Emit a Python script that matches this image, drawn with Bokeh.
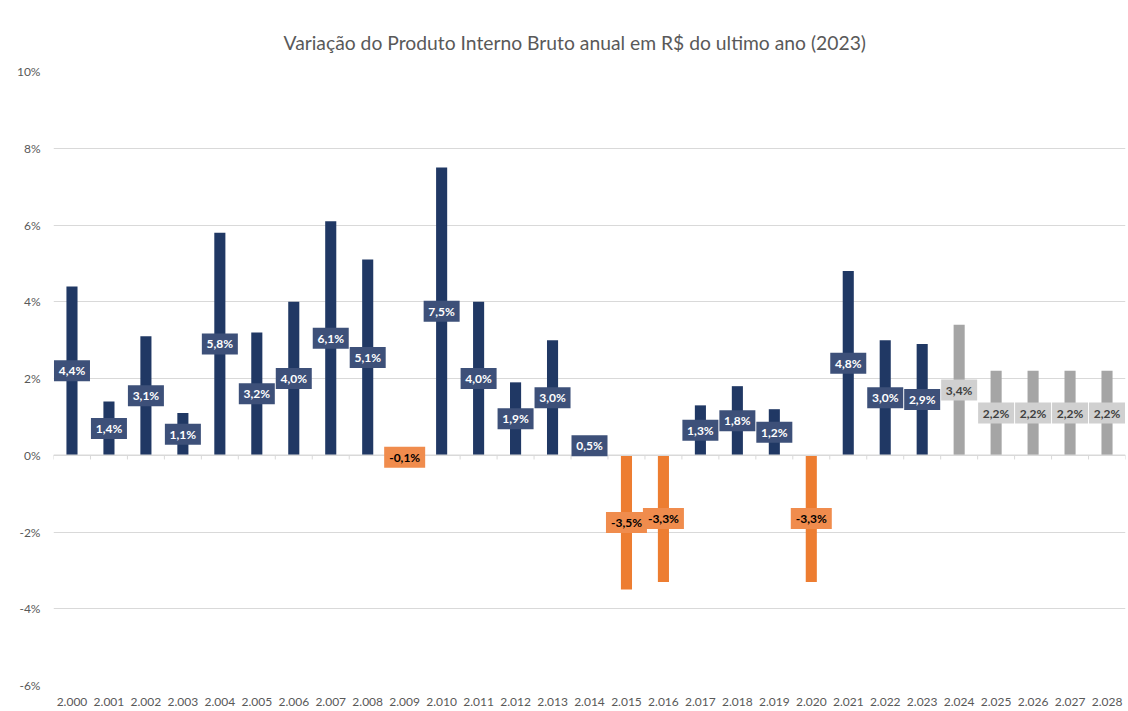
from bokeh.plotting import figure
from bokeh.models import ColumnDataSource, Range1d, FixedTicker, PrintfTickFormatter
from bokeh.core.properties import value
from bokeh.embed import file_html
from bokeh.resources import INLINE

# ---- data ----
years = ["2.000", "2.001", "2.002", "2.003", "2.004", "2.005", "2.006", "2.007",
         "2.008", "2.009", "2.010", "2.011", "2.012", "2.013", "2.014", "2.015",
         "2.016", "2.017", "2.018", "2.019", "2.020", "2.021", "2.022", "2.023",
         "2.024", "2.025", "2.026", "2.027", "2.028"]
growth = [4.4, 1.4, 3.1, 1.1, 5.8, 3.2, 4.0, 6.1, 5.1, -0.1, 7.5, 4.0, 1.9, 3.0,
          0.5, -3.5, -3.3, 1.3, 1.8, 1.2, -3.3, 4.8, 3.0, 2.9, 3.4, 2.2, 2.2, 2.2, 2.2]
first_projected_year = "2.024"
y_ticks = [-6, -4, -2, 0, 2, 4, 6, 8, 10]
title_text = "Variação do Produto Interno Bruto anual em R$ do ultimo ano (2023)"

# ---- styling ----
FONT = "Lato"
NAVY, NAVY_BOX = "#203864", "#3D5079"
ORANGE, ORANGE_BOX = "#ED7D31", "#F08C4D"
GRAY, GRAY_BOX = "#A5A5A5", "#D0D0D0"
AXIS_TXT = "#595959"
GRID = "#D9D9D9"

idx = list(range(len(years)))
proj_i = years.index(first_projected_year)
bar_c, box_c, txt_c = [], [], []
for i, v in enumerate(growth):
    if i >= proj_i:
        bar_c.append(GRAY); box_c.append(GRAY_BOX); txt_c.append("#404040")
    elif v < 0:
        bar_c.append(ORANGE); box_c.append(ORANGE_BOX); txt_c.append("#000000")
    else:
        bar_c.append(NAVY); box_c.append(NAVY_BOX); txt_c.append("#FFFFFF")
labels = [f"{v:.1f}%".replace(".", ",") for v in growth]
mids = [v / 2 for v in growth]
box_w = [5 * len(s) + 16 for s in labels]

src = ColumnDataSource(dict(x=idx, top=growth, mid=mids, label=labels,
                            bar_c=bar_c, box_c=box_c, txt_c=txt_c, box_w=box_w))

p = figure(width=1126, height=708, x_range=Range1d(-0.5, len(years) - 0.5),
           y_range=Range1d(y_ticks[0], y_ticks[-1]), output_backend="svg",
           toolbar_location=None, min_border_left=53, min_border_right=1,
           min_border_top=71, min_border_bottom=0)

p.title.text = title_text
p.title.align = "left"
p.title.offset = 230
p.title.standoff = 35
p.title.text_font = FONT
p.title.text_font_style = "normal"
p.title.text_font_size = "19.3px"
p.title.text_color = AXIS_TXT

p.outline_line_color = None
p.xgrid.visible = False
p.ygrid.grid_line_color = GRID
p.ygrid.grid_line_width = 1

p.yaxis.ticker = FixedTicker(ticks=y_ticks)
p.yaxis.formatter = PrintfTickFormatter(format="%d%%")
p.yaxis.axis_line_color = None
p.yaxis.major_tick_line_color = None
p.yaxis.minor_tick_line_color = None
p.yaxis.major_label_standoff = 7
p.yaxis.major_label_text_font = FONT
p.yaxis.major_label_text_font_size = "12px"
p.yaxis.major_label_text_color = AXIS_TXT

p.xaxis.ticker = FixedTicker(ticks=idx)
p.xaxis.major_label_overrides = {i: y for i, y in zip(idx, years)}
p.xaxis.axis_line_color = None
p.xaxis.major_tick_line_color = None
p.xaxis.minor_tick_line_color = None
p.xaxis.major_tick_out = 0
p.xaxis.major_tick_in = 0
p.xaxis.major_label_standoff = 12
p.xaxis.major_label_text_font = FONT
p.xaxis.major_label_text_font_size = "12px"
p.xaxis.major_label_text_color = AXIS_TXT

# bars
p.vbar(x="x", top="top", bottom=0, width=0.3, fill_color="bar_c",
       line_color=None, source=src)

# category axis line at zero with boundary ticks
bounds = [i - 0.5 for i in idx] + [idx[-1] + 0.5]
p.segment(x0=[bounds[0]], y0=[0], x1=[bounds[-1]], y1=[0],
          line_color=GRID, line_width=1.5)
p.segment(x0=bounds, y0=[0] * len(bounds), x1=bounds, y1=[-0.11] * len(bounds),
          line_color=GRID, line_width=1)

# data labels
p.rect(x="x", y="mid", width="box_w", height=21, width_units="screen",
       height_units="screen", fill_color="box_c", line_color=None, source=src)
p.text(x="x", y="mid", text="label", text_align="center", text_baseline="middle",
       text_font=value(FONT), text_font_style="bold", text_font_size="12px",
       text_color="txt_c", source=src)

open("out.html", "w").write(file_html(p, INLINE))
